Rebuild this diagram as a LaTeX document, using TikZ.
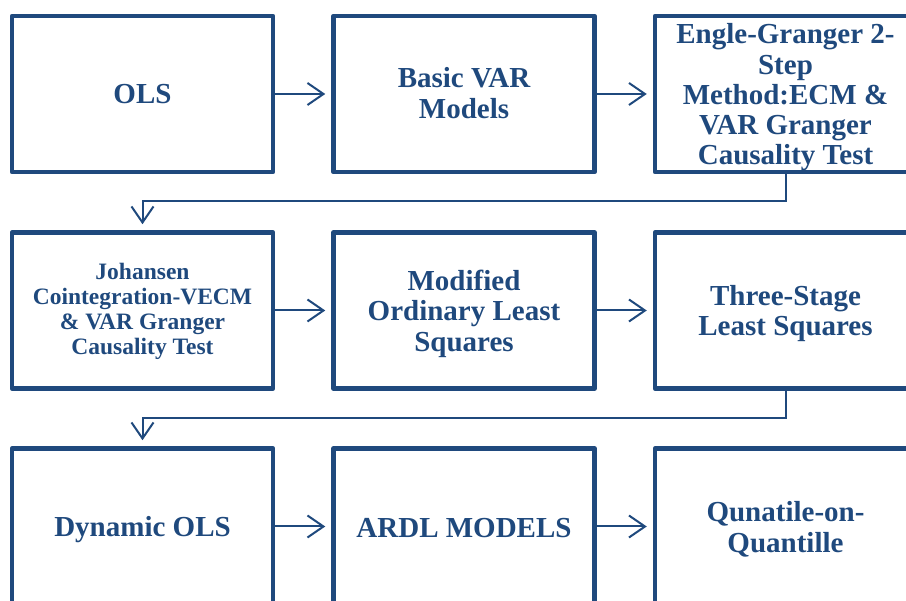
\documentclass[tikz,border=0pt]{standalone}
\usepackage{fontspec}
\setmainfont{Liberation Serif}
\usetikzlibrary{arrows.meta}
\definecolor{navy}{RGB}{31,73,125}
\begin{document}
\begin{tikzpicture}[x=1pt,y=-1pt,
  stage/.style={draw=navy, line width=4.5pt, line join=round,
    minimum width=261pt, minimum height=156pt, inner sep=0pt},
  caption/.style={text=navy, align=center, inner sep=0pt,
    font=\bfseries\fontsize{29}{30.5}\selectfont},
  smalltext/.style={font=\bfseries\fontsize{23.5}{25}\selectfont},
  flow/.style={draw=navy, line width=2pt,
    -{Straight Barb[length=16pt,width=22pt]}, shorten >=6pt}
]
\useasboundingbox (0,0) rectangle (906,601);
\clip (0,0) rectangle (906,601);

% boxes
\node[stage] (ols)  at (142.5,94)    {};
\node[stage] (var)  at (464,94)      {};
\node[stage] (eg)   at (785.5,94)    {};
\node[stage] (joh)  at (142.5,310.5) {};
\node[stage] (mols) at (464,310.5)   {};
\node[stage] (tsls) at (785.5,310.5) {};
\node[stage] (dols) at (142.5,526.5) {};
\node[stage] (ardl) at (464,526.5)   {};
\node[stage] (qq)   at (785.5,526.5) {};

% box captions
\node[caption] (ols-t) at (ols) {OLS};
\node[caption] (var-t) at ([yshift=1pt]var) {Basic VAR\\Models};
\node[caption, font=\bfseries\fontsize{29}{30.25}\selectfont] (eg-t)
  at ([yshift=-3.5pt]eg)
  {Engle-Granger 2-\\Step\\Method:ECM \&\\VAR Granger\\Causality Test};
\node[caption, smalltext] (joh-t) at ([yshift=-1pt]joh)
  {Johansen\\Cointegration-VECM\\\& VAR Granger\\Causality Test};
\node[caption] (mols-t) at ([yshift=-3pt]mols) {Modified\\Ordinary Least\\Squares};
\node[caption] (tsls-t) at ([yshift=-3pt]tsls) {Three-Stage\\Least Squares};
\node[caption] (dols-t) at ([yshift=-3pt]dols) {Dynamic OLS};
\node[caption] (ardl-t) at ([yshift=-2pt]ardl) {ARDL MODELS};
\node[caption] (qq-t)   at ([yshift=-3pt]qq)   {Qunatile-on-\\Quantille};

% connectors
\draw[flow] (ols.east) -- (var.west);
\draw[flow] (var.east) -- (eg.west);
\draw[flow] (eg.south) -- ++(0,27) -| (joh.north);
\draw[flow] (joh.east) -- (mols.west);
\draw[flow] (mols.east) -- (tsls.west);
\draw[flow] (tsls.south) -- ++(0,27) -| (dols.north);
\draw[flow] (dols.east) -- (ardl.west);
\draw[flow] (ardl.east) -- (qq.west);
\end{tikzpicture}
\end{document}
